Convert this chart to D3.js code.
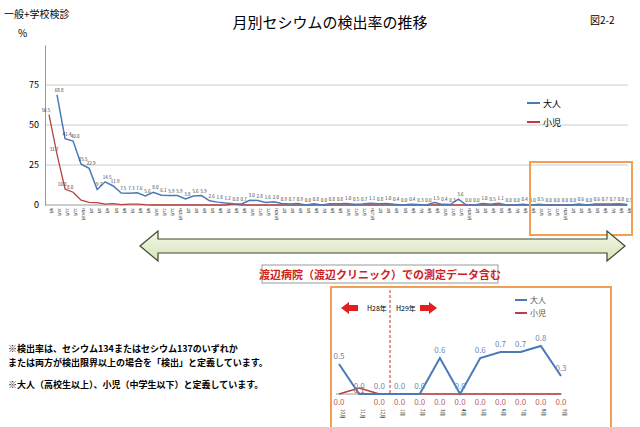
<!DOCTYPE html><html><head><meta charset="utf-8"><script src="https://cdn.jsdelivr.net/npm/d3@7"></script>
<style>body{margin:0;background:#fff}text{font-family:"Noto Sans CJK JP",sans-serif}</style></head><body><svg id="c" width="640" height="427"></svg>
<script>
const years=[["H23",[9,10,11,12]],["H24",[1,2,3,4,5,6,7,8,9,10,11,12]],["H25",[1,2,3,4,5,6,7,8,9,10,11,12]],["H26",[1,2,3,4,5,6,7,8,9,10,11,12]],["H27",[1,2,3,4,5,6,7,8,9,10,11,12]],["H28",[1,2,3,4,5,6,7,8,9,10,11,12]],["H29",[1,2,3,4,5,6,7,8,9]]];
const months=[];years.forEach(([y,ms])=>ms.forEach(m=>months.push((m===1&&y!=="H23"?y:"")+m+"月")));
const adult=[null,68.8,41.4,40.0,
25.5,22.9,9.7,14.5,11.9,7.5,7.3,7.6,5.6,8.0,6.1,5.9,
5.9,3.8,5.6,5.9,2.6,1.8,1.2,0.8,0.7,3.0,2.8,1.6,
2.0,0.9,0.7,0.9,0.0,0.8,0.0,0.8,0.8,1.0,0.5,0.7,
1.1,0.8,1.0,0.4,0.0,0.4,0.3,0.0,1.5,0.4,0.3,3.6,
0.0,0.0,1.0,0.5,1.1,0.0,0.0,0.4,0.0,0.5,0.0,0.0,
0.0,0.0,0.6,0.0,0.6,0.7,0.7,0.8,0.3];
const child=[56.5,31.7,10.0,8.0,
3.0,1.6,1.5,0.5,0.9,0.2,0.5,0.6,0.2,0.0,0.0,0.0,
0.0,0.0,0.0,0.0,0.0,0.0,0.0,0.5,0.0,0.0,0.0,0.0,
0,0,0,0,0,0,0,0,0,0,0,0,0,0,0,0,0,0,0,0,0,0,0,0,
0,0,0,0,0,0,0,0,0,0,0.1,0,0,0,0,0,0,0,0,0,0];
const yTicks=[0,25,50,75];
const insetMonths=["10月","11月","12月","1月","2月","3月","4月","5月","6月","7月","8月","9月"];
const insetAdult=[0.5,0.0,0.0,0.0,0.0,0.6,0.0,0.6,0.7,0.7,0.8,0.3];
const insetChild=[0.0,0.1,0.0,0.0,0.0,0.0,0.0,0.0,0.0,0.0,0.0,0.0];
const BLUE="#4a7ab5",RED="#b84040",OR="#f0a050";
const svg=d3.select("#c");
svg.append("text").attr("x",330).attr("y",28).attr("text-anchor","middle").attr("font-size",15).text("月別セシウムの検出率の推移");
svg.append("text").attr("x",4).attr("y",18).attr("font-size",10).text("一般+学校検診");
svg.append("text").attr("x",590).attr("y",24).attr("font-size",10).text("図2-2");
svg.append("text").attr("x",18).attr("y",37).attr("font-size",10).text("%");
const x=d3.scalePoint().domain(d3.range(months.length)).range([49,627]);
const y=d3.scaleLinear().domain([0,100]).range([205,45]);
const g=svg.append("g");
g.selectAll(".gl").data(yTicks.slice(1)).join("line").attr("x1",45).attr("x2",628).attr("y1",d=>y(d)).attr("y2",d=>y(d)).attr("stroke","#ccc");
g.append("g").attr("transform","translate(45,0)").call(d3.axisLeft(y).tickValues(yTicks).tickSize(0).tickPadding(6)).call(a=>a.select(".domain").attr("stroke","#999")).selectAll("text").attr("font-size",9);
g.append("line").attr("x1",45).attr("x2",628).attr("y1",y(0)).attr("y2",y(0)).attr("stroke","#999");
g.selectAll(".xl").data(months).join("text").attr("font-size",3.8).attr("transform",(d,i)=>`translate(${x(i)+1.3},208) rotate(90)`).text(d=>d);
const ln=d3.line().defined(d=>d[1]!=null).x(d=>x(d[0])).y(d=>y(d[1]));
g.append("path").attr("d",ln(child.map((v,i)=>[i,v]))).attr("fill","none").attr("stroke",RED).attr("stroke-width",1.3);
g.append("path").attr("d",ln(adult.map((v,i)=>[i,v]))).attr("fill","none").attr("stroke",BLUE).attr("stroke-width",1.5);
g.selectAll(".al").data(adult.map((v,i)=>[i,v]).filter(d=>d[1]!=null)).join("text").attr("font-size",4.5).attr("fill","#333").attr("text-anchor","middle").attr("x",d=>x(d[0])+2).attr("y",d=>y(d[1])-3).text(d=>d[1].toFixed(1));
g.selectAll(".cl").data(child.slice(0,4).map((v,i)=>[i,v])).join("text").attr("font-size",4.5).attr("fill","#333").attr("text-anchor","middle").attr("x",d=>x(d[0])-3).attr("y",d=>y(d[1])-3).text(d=>d[1].toFixed(1));
[["大人",BLUE,103],["小児",RED,122]].forEach(([t,c,yy])=>{svg.append("line").attr("x1",527).attr("x2",540).attr("y1",yy).attr("y2",yy).attr("stroke",c).attr("stroke-width",2);svg.append("text").attr("x",543).attr("y",yy+4).attr("font-size",9).text(t);});
svg.append("rect").attr("x",530).attr("y",162).attr("width",102).attr("height",73).attr("fill","none").attr("stroke",OR).attr("stroke-width",2);
const defs=svg.append("defs");const gr=defs.append("linearGradient").attr("id","gg").attr("x1",0).attr("y1",0).attr("x2",0).attr("y2",1);
gr.append("stop").attr("offset",0).attr("stop-color","#f4f8ea");gr.append("stop").attr("offset",1).attr("stop-color","#d6e4b8");
svg.append("path").attr("d","M140,246 L158,231 L158,239 L607,239 L607,231 L625,246 L607,261 L607,253 L158,253 L158,261 Z").attr("fill","url(#gg)").attr("stroke","#3a4a2a").attr("stroke-width",1.2);
svg.append("rect").attr("x",262).attr("y",265).attr("width",236).attr("height",18).attr("fill","#fff").attr("stroke","#999");
svg.append("text").attr("x",380).attr("y",279).attr("text-anchor","middle").attr("font-size",11).attr("font-weight","bold").attr("fill","#d02020").text("渡辺病院（渡辺クリニック）での測定データ含む");
[["※検出率は、セシウム134またはセシウム137のいずれか",352],["または両方が検出限界以上の場合を「検出」と定義しています。",366],["※大人（高校生以上）、小児（中学生以下）と定義しています。",388]].forEach(([t,yy])=>svg.append("text").attr("x",8).attr("y",yy).attr("font-size",9).attr("font-weight","bold").text(t));
svg.append("rect").attr("x",331).attr("y",287).attr("width",280).attr("height",145).attr("fill","#fff").attr("stroke",OR).attr("stroke-width",2);
const xi=d3.scalePoint().domain(insetMonths).range([339,561]);
const yi=d3.scaleLinear().domain([0,1]).range([394,334]);
svg.append("line").attr("x1",336).attr("x2",562).attr("y1",yi(0)).attr("y2",yi(0)).attr("stroke","#999");
svg.append("line").attr("x1",390).attr("x2",390).attr("y1",290).attr("y2",394).attr("stroke","#c03030").attr("stroke-dasharray","3,2");
const li=d3.line().x(d=>xi(d[0])).y(d=>yi(d[1]));
svg.append("path").attr("d",li(insetMonths.map((m,i)=>[m,insetChild[i]]))).attr("fill","none").attr("stroke",RED).attr("stroke-width",1.5);
svg.append("path").attr("d",li(insetMonths.map((m,i)=>[m,insetAdult[i]]))).attr("fill","none").attr("stroke",BLUE).attr("stroke-width",2);
svg.selectAll(".ia").data(insetMonths.map((m,i)=>[m,insetAdult[i]])).join("text").attr("font-size",8).attr("fill","#6a8ab5").attr("text-anchor","middle").attr("x",d=>xi(d[0])).attr("y",d=>yi(d[1])-5).text(d=>d[1].toFixed(1));
svg.selectAll(".ic").data(insetMonths.map((m,i)=>[m,insetChild[i]])).join("text").attr("font-size",8).attr("fill","#c06060").attr("text-anchor","middle").attr("x",d=>xi(d[0])).attr("y",d=>yi(0)+(d[1]>0?-1:11)).text(d=>d[1].toFixed(1));
svg.selectAll(".im").data(insetMonths).join("text").attr("font-size",4.5).attr("transform",d=>`translate(${xi(d)+1.5},409) rotate(90)`).text(d=>d);
[["大人",BLUE,300],["小児",RED,313]].forEach(([t,c,yy])=>{svg.append("line").attr("x1",515).attr("x2",527).attr("y1",yy).attr("y2",yy).attr("stroke",c).attr("stroke-width",2);svg.append("text").attr("x",530).attr("y",yy+3).attr("font-size",8).attr("fill","#555").text(t);});
svg.append("path").attr("d","M341,308 L349,302 L349,305 L358,305 L358,311 L349,311 L349,314 Z").attr("fill","#e02020");
svg.append("path").attr("d","M437,308 L429,302 L429,305 L420,305 L420,311 L429,311 L429,314 Z").attr("fill","#e02020");
svg.append("text").attr("x",367).attr("y",311).attr("font-size",7).text("H28年");
svg.append("text").attr("x",396).attr("y",311).attr("font-size",7).text("H29年");
</script></body></html>
